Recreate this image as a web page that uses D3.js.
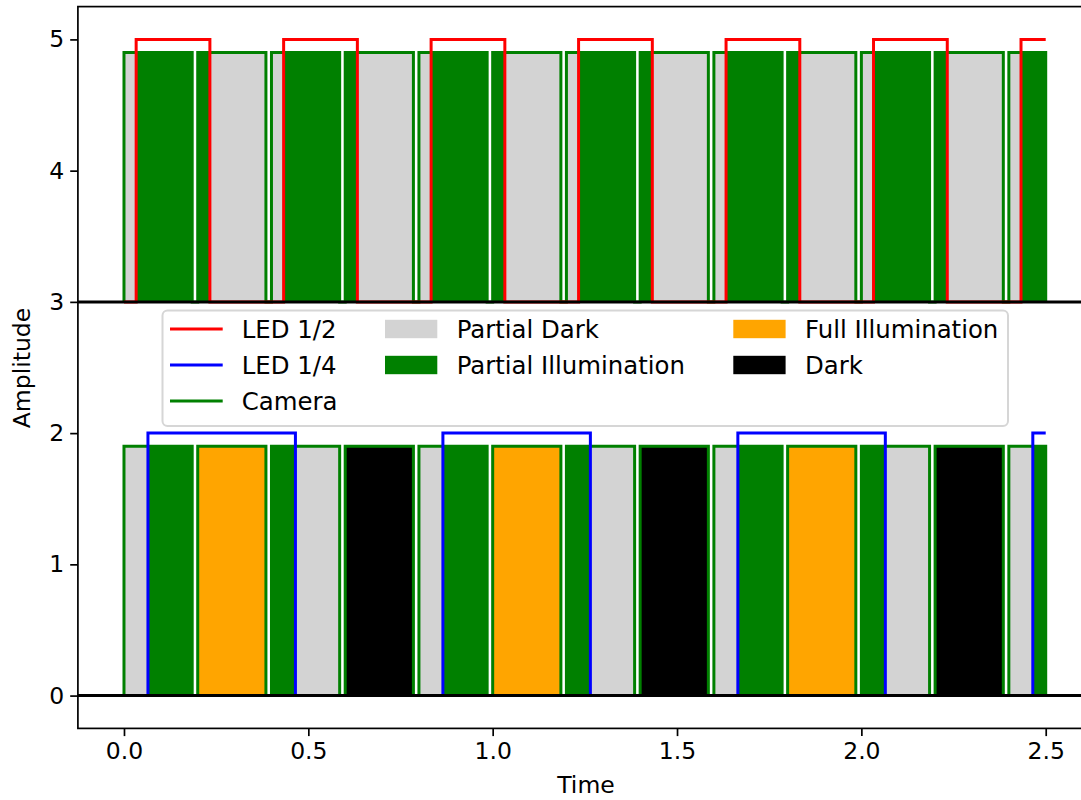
<!DOCTYPE html>
<html>
<head>
<meta charset="utf-8">
<script src="https://cdn.jsdelivr.net/npm/d3@7"></script>
<style>
body { margin: 0; background: #fff; }
text { font-family: "DejaVu Sans", sans-serif; }
</style>
</head>
<body>
<svg></svg>
<script>
// camera frames (exposure windows)
const frameStart = [0.0, 0.2, 0.4, 0.6, 0.8, 1.0, 1.2, 1.4, 1.6, 1.8, 2.0, 2.2, 2.4]
const frameEnd = [0.185, 0.385, 0.585, 0.785, 0.985, 1.185, 1.385, 1.585, 1.785, 1.985, 2.185, 2.385, 2.5]
const tEnd = 2.5

// LED edges
const ledHalfRise = [0.033, 0.433, 0.833, 1.233, 1.633, 2.033, 2.433]
const ledHalfFall = [0.233, 0.633, 1.033, 1.433, 1.833, 2.233]
const ledQuarterRise = [0.065, 0.865, 1.665, 2.465]
const ledQuarterFall = [0.465, 1.265, 2.065]

// levels
const topBase = 3, topCamera = 4.9, topLed = 5
const bottomBase = 0, bottomCamera = 1.9, bottomLed = 2

// fill segments [start, end, kind]
const topSegments = [
  [0.0, 0.033, "pd"], [0.033, 0.185, "pi"],
  [0.2, 0.233, "pi"], [0.233, 0.385, "pd"],
  [0.4, 0.433, "pd"], [0.433, 0.585, "pi"],
  [0.6, 0.633, "pi"], [0.633, 0.785, "pd"],
  [0.8, 0.833, "pd"], [0.833, 0.985, "pi"],
  [1.0, 1.033, "pi"], [1.033, 1.185, "pd"],
  [1.2, 1.233, "pd"], [1.233, 1.385, "pi"],
  [1.4, 1.433, "pi"], [1.433, 1.585, "pd"],
  [1.6, 1.633, "pd"], [1.633, 1.785, "pi"],
  [1.8, 1.833, "pi"], [1.833, 1.985, "pd"],
  [2.0, 2.033, "pd"], [2.033, 2.185, "pi"],
  [2.2, 2.233, "pi"], [2.233, 2.385, "pd"],
  [2.4, 2.433, "pd"], [2.433, 2.5, "pi"]
]
const bottomSegments = [
  [0.0, 0.065, "pd"], [0.065, 0.185, "pi"],
  [0.2, 0.385, "fi"],
  [0.4, 0.465, "pi"], [0.465, 0.585, "pd"],
  [0.6, 0.785, "dk"],
  [0.8, 0.865, "pd"], [0.865, 0.985, "pi"],
  [1.0, 1.185, "fi"],
  [1.2, 1.265, "pi"], [1.265, 1.385, "pd"],
  [1.4, 1.585, "dk"],
  [1.6, 1.665, "pd"], [1.665, 1.785, "pi"],
  [1.8, 1.985, "fi"],
  [2.0, 2.065, "pi"], [2.065, 2.185, "pd"],
  [2.2, 2.385, "dk"],
  [2.4, 2.465, "pd"], [2.465, 2.5, "pi"]
]

const xTicks = [0, 0.5, 1.0, 1.5, 2.0, 2.5]
const yTicks = [0, 1, 2, 3, 4, 5]

const lineLegend = [["LED 1/2", "red"], ["LED 1/4", "blue"], ["Camera", "green"]]
const patchLegend = [["Partial Dark", "pd"], ["Partial Illumination", "pi"], ["Full Illumination", "fi"], ["Dark", "dk"]]

const kindColor = {pd: "lightgray", pi: "green", fi: "orange", dk: "black"}

const width = 1081, height = 800
const fs = 23.5, legFs = 24.4

let svg = d3.select("svg")
    .attr("width", width)
    .attr("height", height)

svg.append("rect").attr("width", width).attr("height", height).attr("fill", "white")

let x = d3.scaleLinear().domain([-0.125, 2.625]).range([77.9, 1091.8])
let y = d3.scaleLinear().domain([-0.25, 5.25]).range([728.4, 6.6])

svg.append("clipPath").attr("id", "clip")
    .append("rect")
    .attr("x", x(-0.125)).attr("y", y(5.25))
    .attr("width", x(2.625) - x(-0.125))
    .attr("height", y(-0.25) - y(5.25))

let plot = svg.append("g").attr("clip-path", "url(#clip)")

// fills
function drawSegments(segs, base, top){
    plot.append("g").selectAll("rect")
        .data(segs)
        .enter()
        .append("rect")
        .attr("x", d => x(d[0]))
        .attr("width", d => x(d[1]) - x(d[0]))
        .attr("y", y(base + top))
        .attr("height", y(base) - y(base + top))
        .attr("fill", d => kindColor[d[2]])
}
drawSegments(topSegments, topBase, bottomCamera)
drawSegments(bottomSegments, bottomBase, bottomCamera)

let line = d3.line().x(d => x(d[0])).y(d => y(d[1]))

// camera step line
function cameraPoints(lo, hi){
    let pts = [[0, lo]]
    frameStart.forEach((s, i) => {
        pts.push([s, lo], [s, hi], [frameEnd[i], hi], [frameEnd[i], lo])
    })
    pts.push([tEnd, lo])
    return pts
}

function ledPoints(rise, fall, lo, hi){
    let ev = rise.map(t => [t, hi]).concat(fall.map(t => [t, lo])).sort((a, b) => a[0] - b[0])
    let level = lo
    let pts = [[0, lo]]
    ev.forEach(e => {
        pts.push([e[0], level], [e[0], e[1]])
        level = e[1]
    })
    pts.push([tEnd, level])
    return pts
}

plot.append("path").attr("d", line(cameraPoints(topBase, topCamera)))
    .attr("fill", "none").attr("stroke", "green").attr("stroke-width", 3)
plot.append("path").attr("d", line(cameraPoints(bottomBase, bottomCamera)))
    .attr("fill", "none").attr("stroke", "green").attr("stroke-width", 3)

plot.append("path").attr("d", line(ledPoints(ledHalfRise, ledHalfFall, topBase, topLed)))
    .attr("fill", "none").attr("stroke", "red").attr("stroke-width", 3)
plot.append("path").attr("d", line(ledPoints(ledQuarterRise, ledQuarterFall, bottomBase, bottomLed)))
    .attr("fill", "none").attr("stroke", "blue").attr("stroke-width", 3)

// baselines
plot.selectAll(".base")
    .data([bottomBase, topBase])
    .enter()
    .append("line")
    .attr("x1", x(-0.125)).attr("x2", x(2.625))
    .attr("y1", d => y(d)).attr("y2", d => y(d))
    .attr("stroke", "black").attr("stroke-width", 3)

// axes
let xAxis = d3.axisBottom(x).tickValues(xTicks).tickFormat(d3.format(".1f")).tickSize(7.7).tickPadding(6)
let yAxis = d3.axisLeft(y).tickValues(yTicks).tickFormat(d3.format("d")).tickSize(7.7).tickPadding(6)

let gx = svg.append("g").attr("transform", `translate(0,${y(-0.25)})`).call(xAxis)
let gy = svg.append("g").attr("transform", `translate(${x(-0.125)},0)`).call(yAxis)
;[gx, gy].forEach(g => {
    g.select(".domain").remove()
    g.selectAll("line").attr("stroke", "black").attr("stroke-width", 1.7)
    g.selectAll("text").attr("font-size", fs).attr("fill", "black").attr("font-family", "DejaVu Sans")
})

// spines
svg.append("rect")
    .attr("x", x(-0.125)).attr("y", y(5.25))
    .attr("width", x(2.625) - x(-0.125))
    .attr("height", y(-0.25) - y(5.25))
    .attr("fill", "none").attr("stroke", "black").attr("stroke-width", 1.7)

// labels
svg.append("text").attr("x", 586).attr("y", 793).attr("text-anchor", "middle")
    .attr("font-size", fs).text("Time")
svg.append("text").attr("transform", "translate(30,368) rotate(-90)").attr("text-anchor", "middle")
    .attr("font-size", fs).text("Amplitude")

// legend
let leg = svg.append("g")
leg.append("rect")
    .attr("x", 162.5).attr("y", 310.5).attr("width", 845.5).attr("height", 115.5)
    .attr("rx", 5).attr("fill", "white").attr("fill-opacity", 0.8)
    .attr("stroke", "#d6d6d6").attr("stroke-width", 2)

const rowY = [329, 365, 401]
lineLegend.forEach((d, i) => {
    leg.append("line").attr("x1", 170).attr("x2", 222.7)
        .attr("y1", rowY[i]).attr("y2", rowY[i])
        .attr("stroke", d[1]).attr("stroke-width", 3)
    leg.append("text").attr("x", 241.7).attr("y", rowY[i] + 8.7)
        .attr("font-size", legFs).text(d[0])
})
const colX = [[385, 456.7], [733.3, 805]]
patchLegend.forEach((d, i) => {
    let c = colX[Math.floor(i / 2)], r = rowY[i % 2]
    leg.append("rect").attr("x", c[0]).attr("y", r - 9.2)
        .attr("width", 52.3).attr("height", 18.4)
        .attr("fill", kindColor[d[1]])
    leg.append("text").attr("x", c[1]).attr("y", r + 8.7)
        .attr("font-size", legFs).text(d[0])
})
</script>
</body>
</html>
